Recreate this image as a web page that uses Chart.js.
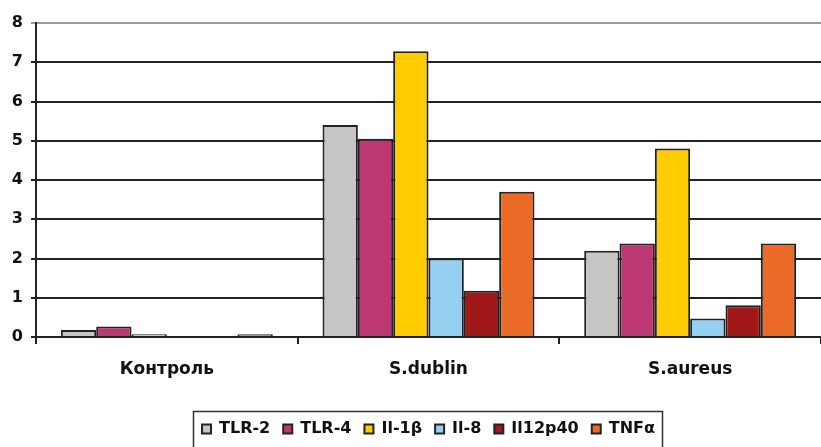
<!DOCTYPE html>
<html>
<head>
<meta charset="utf-8">
<script src="https://cdn.jsdelivr.net/npm/chart.js@4"></script>
<style>
  html, body { margin: 0; padding: 0; background: #ffffff; }
  #wrap { width: 821px; height: 447px; position: relative; }
</style>
</head>
<body>
<div id="wrap"><canvas id="c" width="821" height="447"></canvas></div>
<script>
// Groups along the x axis
const categories = ["Контроль", "S.dublin", "S.aureus"];

// Series names (legend) and values per group
const seriesNames = ["TLR-2", "TLR-4", "Il-1β", "Il-8", "Il12p40", "TNFα"];
const tlr2    = [0.18, 5.4, 2.2];
const tlr4    = [0.27, 5.05, 2.38];
const il1b    = [0.07, 7.28, 4.8];
const il8     = [0, 2.0, 0.47];
const il12p40 = [0, 1.18, 0.81];
const tnfa    = [0.07, 3.7, 2.38];

// Y axis tick values
const yTicks = [0, 1, 2, 3, 4, 5, 6, 7, 8];

const seriesValues = [tlr2, tlr4, il1b, il8, il12p40, tnfa];
const seriesColors = ["#c6c6c6", "#bb3873", "#ffcc00", "#93d0f2", "#a11818", "#ea6b28"];

const FONT = "'DejaVu Sans', Arial, sans-serif";

// Centres the legend under the plot area instead of the whole canvas
const legendUnderPlot = {
  id: "legendUnderPlot",
  afterLayout(chart) {
    const lg = chart.legend;
    if (!lg) return;
    lg.left = chart.chartArea.left;
    lg.right = chart.chartArea.right;
    lg.width = lg.right - lg.left;
  }
};

// Draws a frame around the legend items
const legendFrame = {
  id: "legendFrame",
  afterDraw(chart) {
    const lg = chart.legend;
    if (!lg || !lg.legendHitBoxes || !lg.legendHitBoxes.length) return;
    const boxes = lg.legendHitBoxes;
    let l = Infinity, r = -Infinity, t = Infinity;
    boxes.forEach(h => {
      l = Math.min(l, h.left); r = Math.max(r, h.left + h.width);
      t = Math.min(t, h.top);
    });
    const ctx = chart.ctx;
    ctx.save();
    ctx.strokeStyle = "#333333";
    ctx.lineWidth = 1.5;
    const x0 = Math.round(l - 9) + 0.5;
    const y0 = Math.round(t - 10) + 0.5;
    ctx.strokeRect(x0, y0, Math.round(r - l + 16), chart.height - y0 + 4);
    ctx.restore();
  }
};

new Chart(document.getElementById("c"), {
  type: "bar",
  data: {
    labels: categories,
    datasets: seriesNames.map((name, i) => ({
      label: name,
      data: seriesValues[i],
      backgroundColor: seriesColors[i],
      borderColor: "#222222",
      borderWidth: 2,
      borderSkipped: "bottom",
      categoryPercentage: 0.81,
      barPercentage: 1.0
    }))
  },
  options: {
    responsive: false,
    animation: false,
    devicePixelRatio: 1,
    layout: { padding: { top: 23, right: 0, left: 0, bottom: 0 } },
    plugins: {
      tooltip: { enabled: false },
      legend: {
        position: "bottom",
        labels: {
          font: { family: FONT, size: 16, weight: "bold" },
          color: "#111111",
          boxWidth: 9,
          boxHeight: 9,
          padding: 13,
          usePointStyle: false
        }
      }
    },
    scales: {
      x: {
        grid: {
          offset: true,
          drawOnChartArea: false,
          drawTicks: true,
          tickLength: 7,
          color: "#222222",
          lineWidth: 2
        },
        border: { display: true, color: "#222222", width: 2 },
        ticks: {
          font: { family: FONT, size: 17, weight: "bold" },
          color: "#111111",
          padding: 15
        },
        afterFit(scale) { scale.height = 71; }
      },
      y: {
        min: 0,
        max: 8,
        afterBuildTicks(scale) { scale.ticks = yTicks.map(v => ({ value: v })); },
        grid: {
          color: ctx => (ctx.tick && ctx.tick.value === 8 ? "#9a9a9a" : "#222222"),
          lineWidth: 2,
          tickLength: 5
        },
        border: { display: true, color: "#222222", width: 2 },
        ticks: {
          font: { family: FONT, size: 16, weight: "bold" },
          color: "#111111",
          padding: 8
        },
        afterFit(scale) { scale.width = 36; }
      }
    }
  },
  plugins: [legendUnderPlot, legendFrame]
});
</script>
</body>
</html>
